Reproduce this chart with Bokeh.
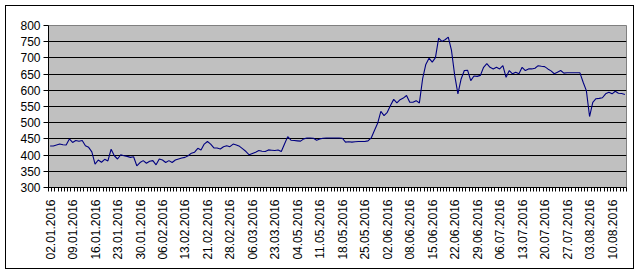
import math
from bokeh.plotting import figure
from bokeh.models import FixedTicker, Range1d
from bokeh.embed import file_html
from bokeh.resources import INLINE

# closing values, one per trading day
values = [
    428, 428, 431, 434, 432, 431, 450, 439, 445, 443,
    445, 429, 424, 410, 372, 385, 378, 387, 382, 418,
    398, 388, 401, 398, 396, 393, 395, 367, 377, 383,
    375, 381, 383, 370, 388, 385, 377, 383, 377, 385,
    388, 391, 393, 398, 406, 409, 421, 416, 434, 442,
    434, 422, 422, 419, 426, 429, 426, 434, 431, 427,
    419, 411, 401, 405, 409, 414, 412, 411, 416, 415,
    414, 416, 411, 434, 457, 446, 445, 444, 443, 450,
    453, 453, 452, 446, 450, 452, 453, 453, 453, 453,
    453, 452, 440, 441, 440, 441, 442, 442, 442, 444,
    453, 476, 498, 535, 522, 532, 553, 572, 561, 571,
    576, 584, 563, 563, 568, 561, 635, 680, 699, 687,
    701, 761, 751, 756, 764, 723, 646, 589, 635, 661,
    662, 630, 644, 643, 646, 671, 682, 671, 666, 671,
    666, 676, 640, 661, 651, 656, 651, 671, 661, 666,
    666, 668, 676, 674, 673, 666, 660, 651, 656, 661,
    653, 654, 654, 654, 654, 654, 625, 599, 519, 563,
    574, 575, 577, 589, 594, 589, 597, 591, 590, 587,
]

# date labels shown on every 7th category
tick_labels = [
    "02.01.2016", "09.01.2016", "16.01.2016", "23.01.2016", "30.01.2016",
    "06.02.2016", "13.02.2016", "21.02.2016", "28.02.2016", "06.03.2016",
    "23.03.2016", "04.05.2016", "11.05.2016", "18.05.2016", "25.05.2016",
    "02.06.2016", "08.06.2016", "15.06.2016", "22.06.2016", "29.06.2016",
    "06.07.2016", "13.07.2016", "20.07.2016", "27.07.2016", "03.08.2016",
    "10.08.2016",
]
label_step = 7
y_ticks = [300, 350, 400, 450, 500, 550, 600, 650, 700, 750, 800]

n = len(values)
xs = list(range(n))
FONT = "Liberation Sans"

p = figure(
    width=629, height=264,
    output_backend="svg", toolbar_location=None,
    x_range=Range1d(-0.5, n - 0.5), y_range=Range1d(300, 800),
    min_border_left=42, min_border_right=9, min_border_top=19, min_border_bottom=83,
)
p.margin = (5, 0, 0, 5)
p.styles = {"border": "1px solid black"}

p.background_fill_color = "#C0C0C0"
p.border_fill_color = "white"
p.outline_line_color = "#808080"

p.line(xs, values, line_color="#000080", line_width=1.1)

p.xgrid.visible = False
p.ygrid.grid_line_color = "black"
p.ygrid.grid_line_width = 1

p.yaxis.ticker = FixedTicker(ticks=y_ticks)
p.yaxis.minor_tick_line_color = None
p.yaxis.major_tick_in = 0
p.yaxis.major_tick_out = 5
p.yaxis.major_label_standoff = 3
p.yaxis.axis_line_color = "black"
p.yaxis.major_label_text_font = FONT
p.yaxis.major_label_text_font_size = "12px"
p.yaxis.major_label_text_color = "black"

label_pos = [i * label_step for i in range(len(tick_labels))]
p.xaxis.ticker = FixedTicker(ticks=label_pos, minor_ticks=[i - 0.5 for i in range(n + 1)])
p.xaxis.major_label_overrides = {pos: lab for pos, lab in zip(label_pos, tick_labels)}
p.xaxis.major_label_orientation = math.pi / 2
p.xaxis.major_tick_line_color = None
p.xaxis.minor_tick_in = 0
p.xaxis.minor_tick_out = 4
p.xaxis.minor_tick_line_color = "black"
p.xaxis.major_label_standoff = 6
p.xaxis.axis_line_color = "black"
p.xaxis.major_label_text_font = FONT
p.xaxis.major_label_text_font_size = "12px"
p.xaxis.major_label_text_color = "black"

open("out.html", "w").write(file_html(p, INLINE))
